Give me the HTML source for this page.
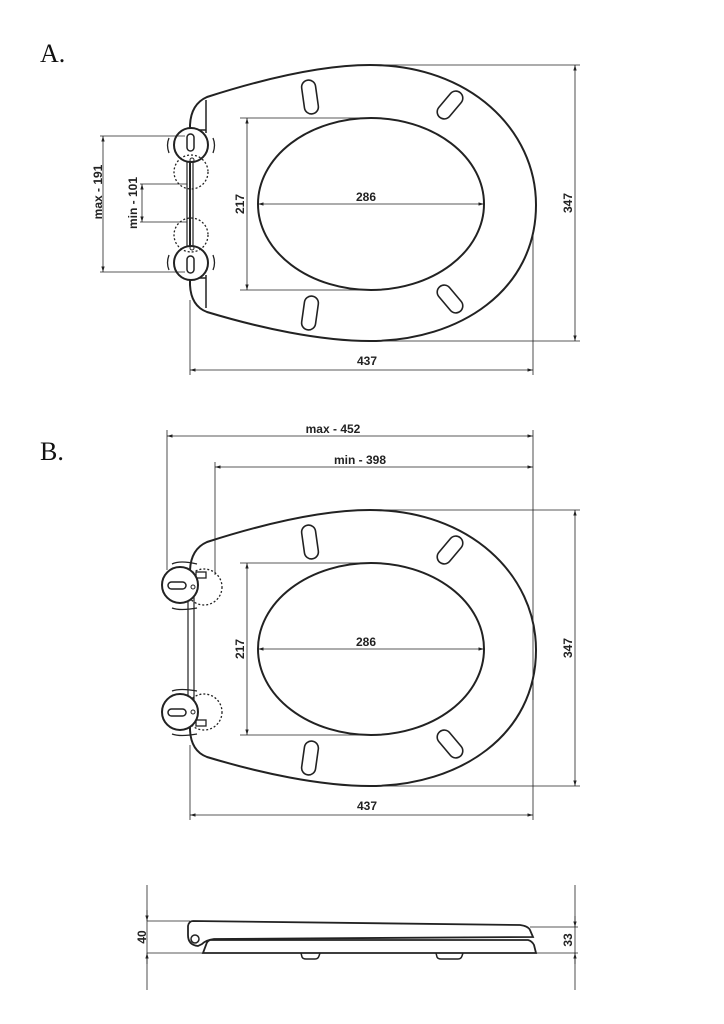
<!DOCTYPE html>
<html><head><meta charset="utf-8"><style>
body{margin:0;background:#fff}
svg{display:block}
text{font-family:"Liberation Sans",sans-serif;font-weight:bold;font-size:12px;fill:#222}
.lbl{font-family:"Liberation Serif",serif;font-weight:normal;font-size:26px;fill:#111}
</style></head><body>
<svg width="724" height="1024" viewBox="0 0 724 1024" xmlns="http://www.w3.org/2000/svg">
<defs>
<marker id="a" viewBox="0 0 10 10" refX="10" refY="5" markerWidth="7" markerHeight="7" orient="auto-start-reverse"><path d="M0,2 L10,5 L0,8z" fill="#222"/></marker>
<g id="seat" fill="none" stroke="#222">
  <path stroke-width="2" d="M207,97 C260,80 320,65 370,65 C470,65 536,130 536,205 C536,290 460,341 370,341 C320,341 260,328 207,312 Q191,306 190,285 L190,125 Q191,104 207,97 Z"/>
  <ellipse stroke-width="2" cx="371" cy="204" rx="113" ry="86"/>
  <rect stroke-width="1.6" x="303" y="80" width="14" height="34" rx="7" transform="rotate(-8 310 97)"/>
  <rect stroke-width="1.6" x="443" y="89" width="14" height="32" rx="7" transform="rotate(40 450 105)"/>
  <rect stroke-width="1.6" x="303" y="296" width="14" height="34" rx="7" transform="rotate(8 310 313)"/>
  <rect stroke-width="1.6" x="443" y="283" width="14" height="32" rx="7" transform="rotate(-40 450 299)"/>
  <g stroke-width="0.8">
    <line x1="240" y1="118" x2="372" y2="118"/><line x1="240" y1="290" x2="372" y2="290"/>
    <line x1="247" y1="118" x2="247" y2="290" marker-start="url(#a)" marker-end="url(#a)"/>
    <line x1="258" y1="204" x2="484" y2="204" marker-start="url(#a)" marker-end="url(#a)"/>
    <line x1="360" y1="65" x2="580" y2="65"/><line x1="360" y1="341" x2="580" y2="341"/>
    <line x1="575" y1="65" x2="575" y2="341" marker-start="url(#a)" marker-end="url(#a)"/>
    <line x1="190" y1="300" x2="190" y2="375"/><line x1="533" y1="230" x2="533" y2="375"/>
    <line x1="190" y1="370" x2="533" y2="370" marker-start="url(#a)" marker-end="url(#a)"/>
  </g>
</g>
</defs>

<text class="lbl" x="40" y="62">A.</text>
<text class="lbl" x="40" y="460">B.</text>

<use href="#seat"/>
<text x="366" y="201" text-anchor="middle">286</text>
<text transform="translate(244 204) rotate(-90)" text-anchor="middle">217</text>
<text transform="translate(572 203) rotate(-90)" text-anchor="middle">347</text>
<text x="367" y="365" text-anchor="middle">437</text>

<g fill="none" stroke="#222">
  <path stroke-width="1.5" d="M206,100 L206,133 M195,130 L206,130 M206,275 L206,308 M195,278 L206,278"/>
  <rect x="187" y="160" width="6" height="90" stroke-width="1.2"/>
  <circle cx="191" cy="145" r="17" stroke-width="2" fill="#fff"/>
  <circle cx="191" cy="263" r="17" stroke-width="2" fill="#fff"/>
  <rect x="187" y="134" width="7" height="17" rx="3.5" stroke-width="1.5"/>
  <rect x="187" y="256" width="7" height="17" rx="3.5" stroke-width="1.5"/>
  <circle cx="192" cy="160" r="2" stroke-width="1"/><circle cx="192" cy="248" r="2" stroke-width="1"/>
  <circle cx="191" cy="172" r="17" stroke-width="1.3" stroke-dasharray="2,2"/>
  <circle cx="191" cy="235" r="17" stroke-width="1.3" stroke-dasharray="2,2"/>
  <path stroke-width="1.3" d="M169,153 Q166,145 169,138 M213,153 Q216,145 213,138 M169,270 Q166,263 169,255 M213,270 Q216,263 213,255"/>
  <g stroke-width="0.8">
    <line x1="100" y1="136" x2="185" y2="136"/><line x1="100" y1="272" x2="185" y2="272"/>
    <line x1="103" y1="136" x2="103" y2="272" marker-start="url(#a)" marker-end="url(#a)"/>
    <line x1="140" y1="184" x2="187" y2="184"/><line x1="140" y1="222" x2="187" y2="222"/>
    <line x1="142" y1="184" x2="142" y2="222" marker-start="url(#a)" marker-end="url(#a)"/>
  </g>
</g>
<text transform="translate(102 192) rotate(-90)" text-anchor="middle">max - 191</text>
<text transform="translate(137 203) rotate(-90)" text-anchor="middle">min - 101</text>

<use href="#seat" transform="translate(0 445)"/>
<text x="366" y="646" text-anchor="middle">286</text>
<text transform="translate(244 649) rotate(-90)" text-anchor="middle">217</text>
<text transform="translate(572 648) rotate(-90)" text-anchor="middle">347</text>
<text x="367" y="810" text-anchor="middle">437</text>
<g fill="none" stroke="#222">
  <rect x="188" y="595" width="6" height="110" stroke-width="1.2" fill="#fff"/>
  <circle cx="204" cy="587" r="18" stroke-width="1.3" stroke-dasharray="2,2"/>
  <circle cx="204" cy="712" r="18" stroke-width="1.3" stroke-dasharray="2,2"/>
  <rect x="196" y="572" width="10" height="6" stroke-width="1.3"/>
  <rect x="196" y="720" width="10" height="6" stroke-width="1.3"/>
  <circle cx="180" cy="585" r="18" stroke-width="2" fill="#fff"/>
  <circle cx="180" cy="712" r="18" stroke-width="2" fill="#fff"/>
  <rect x="168" y="582" width="18" height="7" rx="3.5" stroke-width="1.5"/>
  <rect x="168" y="709" width="18" height="7" rx="3.5" stroke-width="1.5"/>
  <circle cx="193" cy="587" r="2" stroke-width="1"/><circle cx="193" cy="712" r="2" stroke-width="1"/>
  <path stroke-width="1.3" d="M172,564 Q180,560 197,564 M172,608 Q180,611 197,608 M172,691 Q180,688 197,691 M172,734 Q180,737 197,734"/>
  <g stroke-width="0.8">
    <line x1="167" y1="430" x2="167" y2="570"/><line x1="215" y1="462" x2="215" y2="575"/>
    <line x1="533" y1="430" x2="533" y2="700"/>
    <line x1="167" y1="436" x2="533" y2="436" marker-start="url(#a)" marker-end="url(#a)"/>
    <line x1="215" y1="467" x2="533" y2="467" marker-start="url(#a)" marker-end="url(#a)"/>
  </g>
</g>
<text x="333" y="433" text-anchor="middle">max - 452</text>
<text x="360" y="464" text-anchor="middle">min - 398</text>

<g fill="none" stroke="#222">
  <path stroke-width="1.8" d="M193,921 L520,925 Q528,926 530,930 L533,937 L214,939 Q206,940 202,944 L198,946 Q188,945 188,935 L188,926 Q189,921 193,921 Z"/>
  <circle cx="195" cy="939" r="4" stroke-width="1.5"/>
  <path stroke-width="1.8" d="M210,940 L528,940 Q532,941 534,945 L536,953 L203,953 L206,945 Q207,941 210,940 Z"/>
  <path stroke-width="1.5" d="M301,953 L302,957 Q303,959 306,959 L315,959 Q318,959 319,956 L320,953 M436,953 L437,957 Q438,959 441,959 L458,959 Q461,959 462,956 L463,953"/>
  <g stroke-width="0.8">
    <line x1="147" y1="885" x2="147" y2="990"/><line x1="575" y1="885" x2="575" y2="990"/>
    <line x1="147" y1="921" x2="190" y2="921"/><line x1="147" y1="953" x2="205" y2="953"/>
    <line x1="530" y1="927" x2="578" y2="927"/><line x1="536" y1="953" x2="578" y2="953"/>
    <line x1="147" y1="910" x2="147" y2="921" marker-end="url(#a)"/><line x1="147" y1="964" x2="147" y2="953" marker-end="url(#a)"/>
    <line x1="575" y1="916" x2="575" y2="927" marker-end="url(#a)"/><line x1="575" y1="964" x2="575" y2="953" marker-end="url(#a)"/>
  </g>
</g>
<text transform="translate(146 937) rotate(-90)" text-anchor="middle">40</text>
<text transform="translate(572 940) rotate(-90)" text-anchor="middle">33</text>
</svg>
</body></html>
